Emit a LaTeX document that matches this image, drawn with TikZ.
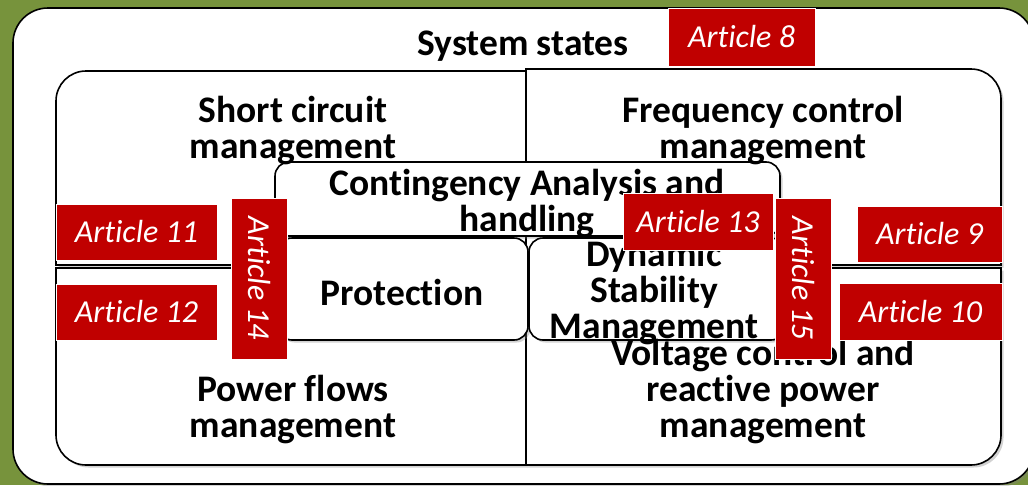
\documentclass[tikz,border=0pt]{standalone}
\usepackage{fontspec}
\setmainfont{Carlito}[Ligatures=NoCommon]
\usetikzlibrary{shadows}
\definecolor{olivebg}{HTML}{77933C}
\definecolor{artred}{HTML}{C00000}
\begin{document}
\begin{tikzpicture}[x=1pt, y=1pt,
		quad/.style={draw=black, line width=1.6pt, fill=white, drop shadow={opacity=0.35, shadow xshift=2.5pt, shadow yshift=-2.5pt}},
		panel/.style={quad, rounded corners=14pt, inner sep=0pt},
		title/.style={font=\bfseries\fontsize{37.5}{36}\selectfont, align=center, inner sep=0pt},
		article/.style={draw=white, line width=0.8pt, fill=artred, text=white, font=\itshape\fontsize{32}{32}\selectfont, inner sep=0pt}]
	\useasboundingbox (0, 0) rectangle (1028, -485);
	% Background
	\fill [olivebg] (0, 0) rectangle (1028, -485);
	\draw [quad, rounded corners=35pt] (13, -8) rectangle (1034, -484);
	% Quadrants
	\draw [quad] (526, -265) -- (56, -265) -- (56, -101) arc [start angle=180, end angle=90, radius=30pt] -- (526, -71) -- cycle;
	\draw [quad] (526, -265) -- (526, -69) -- (971, -69) arc [start angle=90, end angle=0, radius=30pt] -- (1001, -265) -- cycle;
	\draw [quad] (526, -268) -- (56, -268) -- (56, -435) arc [start angle=180, end angle=270, radius=30pt] -- (526, -465) -- cycle;
	\draw [quad] (526, -268) -- (1001, -268) -- (1001, -435) arc [start angle=0, end angle=-90, radius=30pt] -- (526, -465) -- cycle;
	% Inner boxes
	\node [panel, minimum width=505, minimum height=74] (cont) at (527.5, -199) {};
	\node [panel, minimum width=250, minimum height=102] (prot) at (403, -289) {};
	\node [panel, minimum width=256, minimum height=102] (dyn) at (657, -289) {};
	% Texts
	\node [title, anchor=base] (states) at (523, -55) {System states};
	\node [title] (short) at (293, -131) {Short circuit\\management};
	\node [title] (freq) at (763, -131) {Frequency control\\management};
	\node [title] (flows) at (293, -410) {Power flows\\management};
	\node [title] (volt) at (763, -392) {Voltage control and\\reactive power\\management};
	\node [title] (cont-text) at (527, -204) {Contingency Analysis and\\handling};
	\node [title, anchor=base] (prot-text) at (402, -305) {Protection};
	\node [title] (dyn-text) at (654, -293) {Dynamic\\Stability\\Management};
	% Articles
	\foreach \n/\x/\y/\w/\h in {8/741.5/-37/147/58, 11/136.5/-232/161/56, 12/136.5/-312/161/56, 13/698/-221.5/150/57, 9/929.5/-234/145/56, 10/920.5/-311.5/163/57}
		\node [article, minimum width=\w, minimum height=\h] (art-\n) at (\x, \y) {Article \n};
	\foreach \n/\x in {14/259.5, 15/803}
		\node [article, rotate=-90, minimum width=161, minimum height=56] (art-\n) at (\x, -278.5) {Article \n};
\end{tikzpicture}
\end{document}
